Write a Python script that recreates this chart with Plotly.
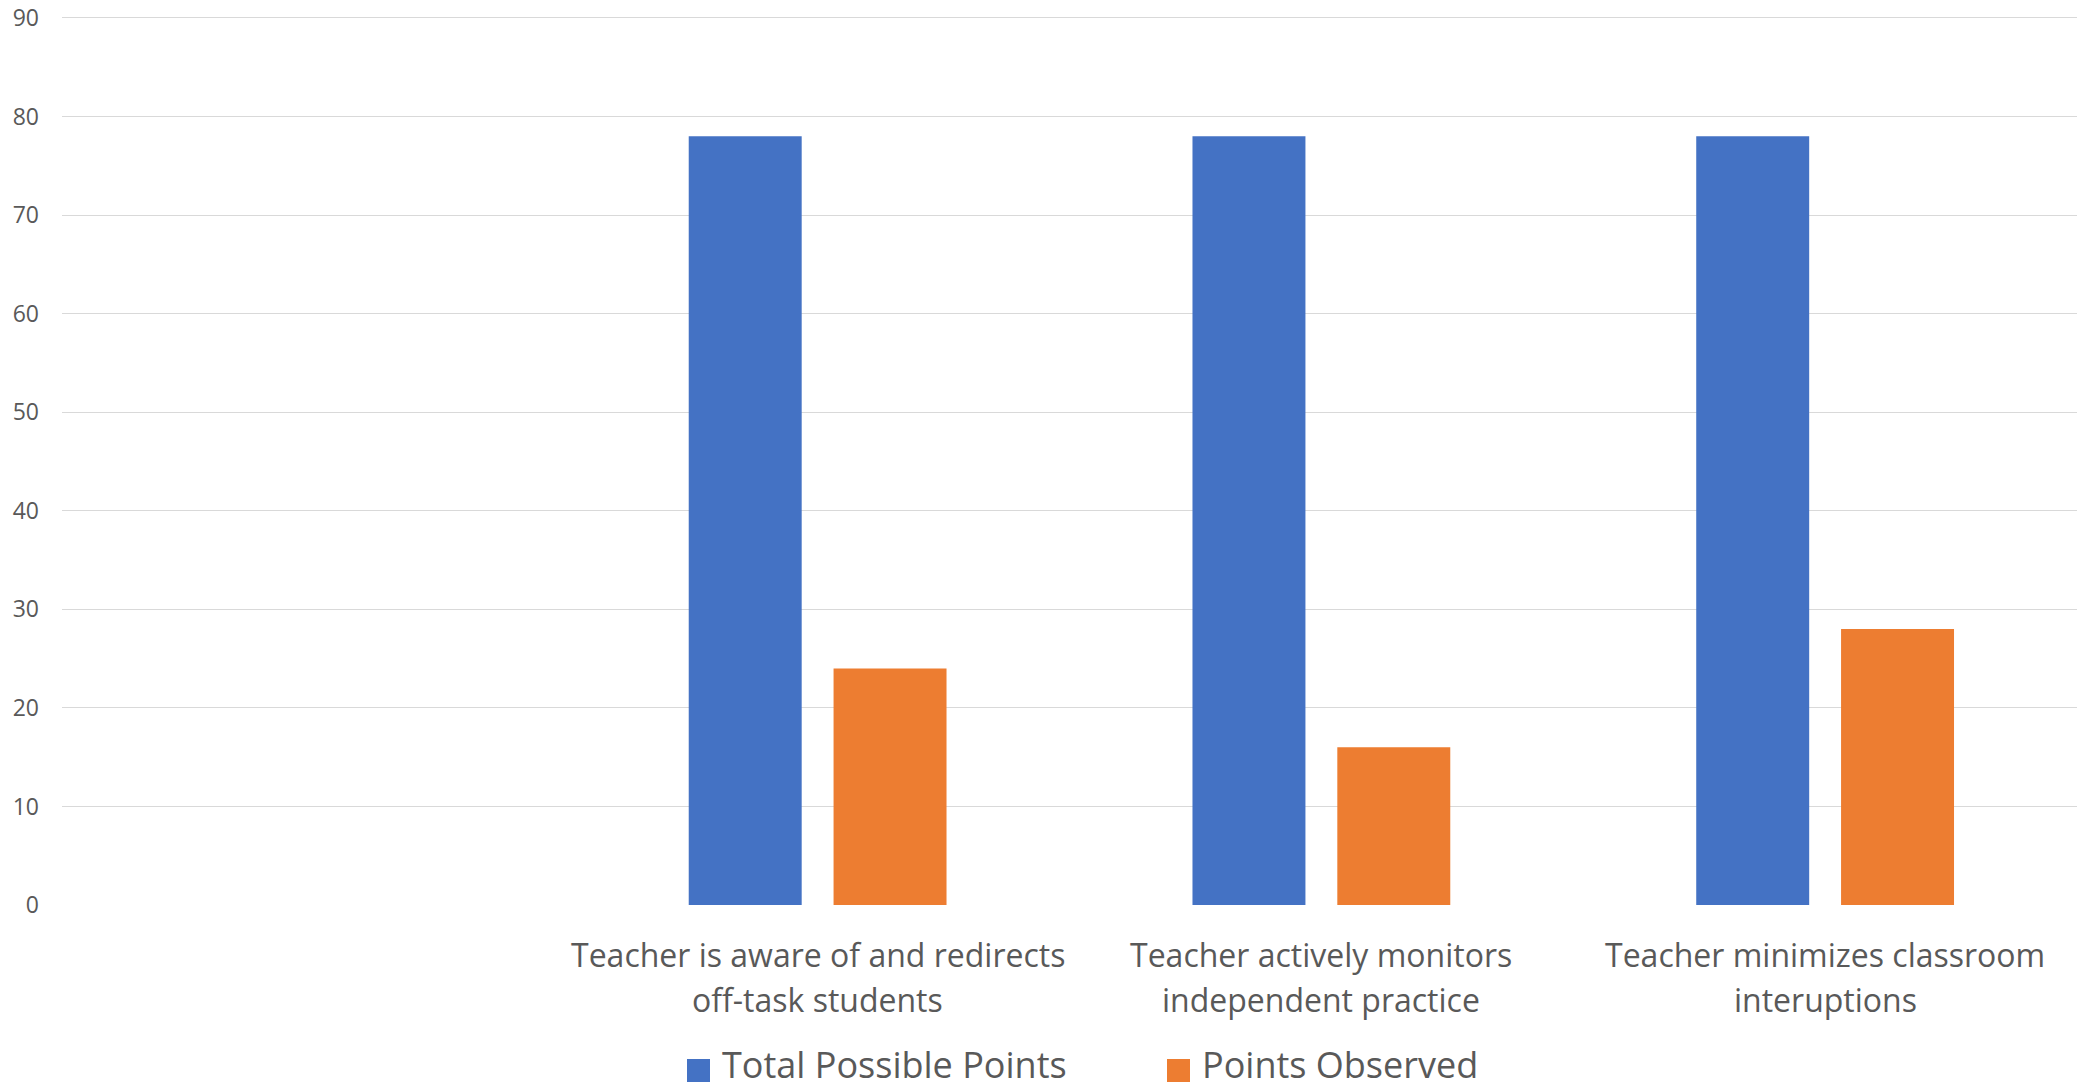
import plotly.graph_objects as go

# Category labels (first slot on the axis is intentionally left empty)
categories = [
    "",
    "Teacher is aware of and redirects<br>off-task students",
    "Teacher actively monitors<br>independent practice",
    "Teacher minimizes classroom<br>interuptions",
]
series_names = ["Total Possible Points", "Points Observed"]
total_possible = [None, 78, 78, 78]
points_observed = [None, 24, 16, 28]
y_ticks = [0, 10, 20, 30, 40, 50, 60, 70, 80, 90]

colors = ["#4472C4", "#ED7D31"]
text_color = "#595959"
font_family = "Open Sans, Noto Sans, sans-serif"

x_pos = list(range(len(categories)))

fig = go.Figure()
for name, vals, col in zip(series_names, [total_possible, points_observed], colors):
    fig.add_trace(go.Bar(
        x=x_pos, y=vals, name=name, marker=dict(color=col, line=dict(width=0)),
        showlegend=False,
    ))

# Pixel geometry of the plotting area (a little headroom above 90 so its gridline shows)
plot_left, plot_right = 62, 2077
plot_top, plot_bottom = 15, 905
plot_w = plot_right - plot_left
plot_h = plot_bottom - plot_top

# Two-line category labels under each group
annotations = []
for i, lab in enumerate(categories):
    if not lab:
        continue
    for j, line in enumerate(lab.split("<br>")):
        y_px = 955 + 44 * j
        annotations.append(dict(
            x=i, xref="x", y=(plot_bottom - y_px) / plot_h, yref="paper",
            text=line, showarrow=False,
            font=dict(size=32, color=text_color, family=font_family),
            xanchor="center", yanchor="middle",
        ))

# Legend drawn as swatches with text
legend_items = [(687, 721), (1167, 1201)]
shapes = []
for (sx, tx), name, col in zip(legend_items, series_names, colors):
    shapes.append(dict(
        type="rect", xref="paper", yref="paper",
        x0=(sx - plot_left) / plot_w, x1=(sx + 23 - plot_left) / plot_w,
        y0=(plot_bottom - 1082) / plot_h, y1=(plot_bottom - 1059) / plot_h,
        fillcolor=col, line=dict(width=0),
    ))
    annotations.append(dict(
        x=(tx - plot_left) / plot_w, xref="paper",
        y=(plot_bottom - 1064) / plot_h, yref="paper",
        text=name, showarrow=False, xanchor="left", yanchor="middle",
        font=dict(size=36, color=text_color, family=font_family),
        borderpad=0,
    ))

fig.update_layout(
    width=2083, height=1088,
    margin=dict(l=plot_left, r=2083 - plot_right, t=plot_top, b=1088 - plot_bottom,
                autoexpand=False),
    paper_bgcolor="white", plot_bgcolor="white",
    barmode="group", bargap=0.425, bargroupgap=0.22,
    font=dict(family=font_family, color=text_color),
    annotations=annotations, shapes=shapes,
    xaxis=dict(
        range=[-0.5, len(categories) - 0.5], showticklabels=False,
        showgrid=False, zeroline=False, showline=False, ticks="",
        automargin=False,
    ),
    yaxis=dict(
        range=[0, 90.3], tickvals=y_ticks, ticktext=[str(v) for v in y_ticks],
        showgrid=True, gridcolor="#D9D9D9", gridwidth=1.3,
        zeroline=False, showline=False, ticks="",
        tickfont=dict(size=23, color=text_color, family=font_family),
        ticklabelstandoff=22, automargin=False,
    ),
)

fig.write_html("out.html")
